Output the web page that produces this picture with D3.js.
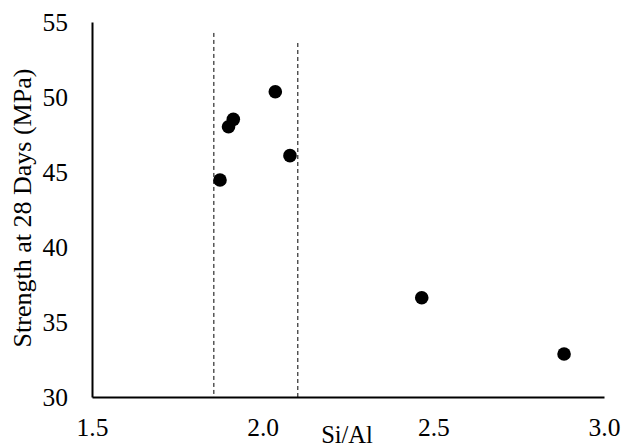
<!DOCTYPE html>
<html><head><meta charset="utf-8">
<script src="https://cdn.jsdelivr.net/npm/d3@7"></script>
<style>body{margin:0;background:#fff}svg{display:block}text{font-family:"Liberation Serif","Times New Roman",serif}</style>
</head><body>
<script>
const siAl = [1.875, 1.90, 1.914, 2.037, 2.08, 2.466, 2.883];
const strength = [44.47, 48.02, 48.51, 50.35, 46.09, 36.62, 32.87];
const dashX = [1.857, 2.103];
const dashTop = [54.27, 53.6];
const xTicks = [1.5, 2.0, 2.5, 3.0];
const yTicks = [30, 35, 40, 45, 50, 55];

const W = 624, H = 448;
const svg = d3.select("body").append("svg").attr("width", W).attr("height", H);
const x = d3.scaleLinear().domain([1.5, 3.0]).range([92, 604]);
const y = d3.scaleLinear().domain([30, 55]).range([397, 22]);

// dashed lines
svg.selectAll("line.dash").data(dashX).join("line")
  .attr("class", "dash")
  .attr("x1", d => x(d)).attr("x2", d => x(d))
  .attr("y1", (d, i) => y(dashTop[i])).attr("y2", y(30))
  .attr("stroke", "#000").attr("stroke-width", 1).attr("stroke-dasharray", "4,3");

// axes
const xAxis = d3.axisBottom(x).tickValues(xTicks).tickFormat(d3.format(".1f")).tickSize(0).tickPadding(21);
const gx = svg.append("g").attr("transform", `translate(0,${y(30)})`).call(xAxis);
gx.select(".domain").attr("stroke", "#000").attr("stroke-width", 2);
gx.selectAll("text").attr("font-size", 25.5).attr("fill", "#000").attr("font-family", "Liberation Serif");

const yAxis = d3.axisLeft(y).tickValues(yTicks).tickSize(0).tickPadding(24);
const gy = svg.append("g").attr("transform", `translate(${x(1.5)},0)`).call(yAxis);
gy.select(".domain").attr("stroke", "#000").attr("stroke-width", 2);
gy.selectAll("text").attr("font-size", 25.5).attr("fill", "#000").attr("font-family", "Liberation Serif");

// points
svg.selectAll("circle").data(siAl).join("circle")
  .attr("cx", d => x(d)).attr("cy", (d, i) => y(strength[i])).attr("r", 6.8).attr("fill", "#000");

// titles
svg.append("text").attr("x", 347).attr("y", 443).attr("text-anchor", "middle")
  .attr("font-size", 24.5).attr("fill", "#000").text("Si/Al");
svg.append("text").attr("transform", "translate(31,208) rotate(-90)").attr("text-anchor", "middle")
  .attr("font-size", 26).attr("fill", "#000").text("Strength at 28 Days (MPa)");
</script>
</body></html>
